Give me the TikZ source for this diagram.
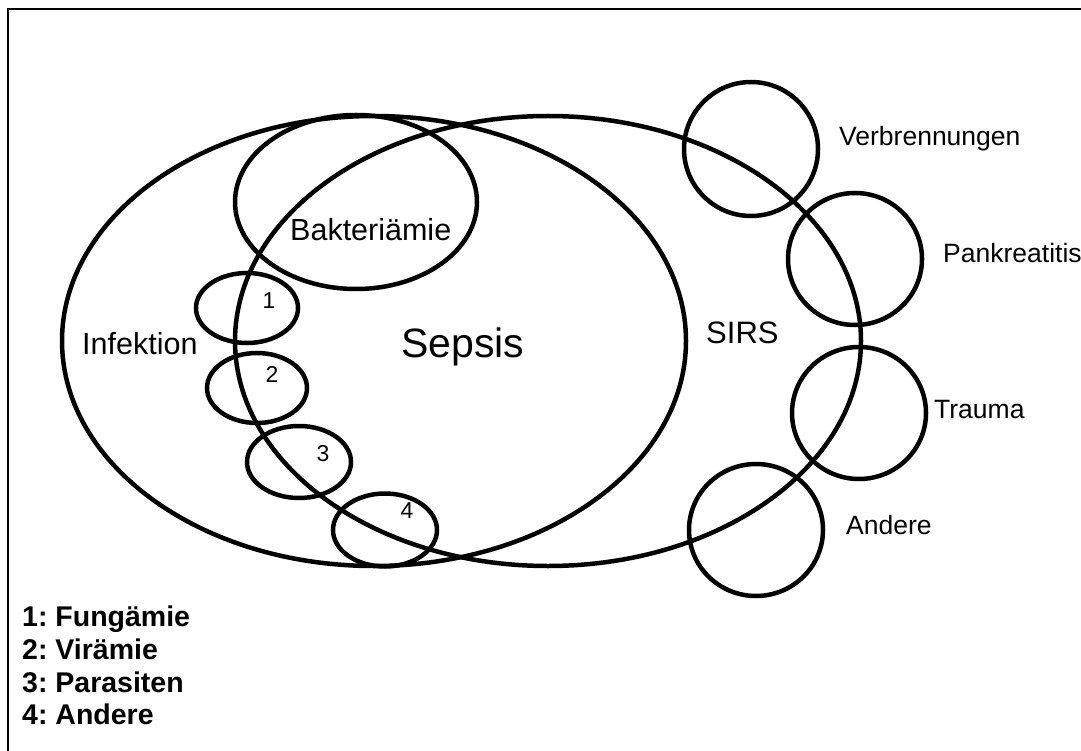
\documentclass[tikz,border=0pt]{standalone}
\usepackage{fontspec}
\setmainfont{Liberation Sans}
\frenchspacing
\begin{document}
\begin{tikzpicture}[x=1pt,y=-1pt,
  ring/.style={draw=black,line width=4.5pt},
  lbl/.style={inner sep=0pt,anchor=base west},
  num/.style={inner sep=0pt,anchor=center,font=\fontsize{23}{27}\selectfont},
  leg/.style={inner sep=0pt,anchor=base west,font=\frenchspacing\bfseries\fontsize{28.5}{33}\selectfont}]
\useasboundingbox (0,0) rectangle (1081,751);
% frame
\draw[line width=2pt] (8,760) -- (8,9) -- (1090,9);
% big ellipses
\draw[ring] (374,341) ellipse [x radius=312, y radius=225];
\draw[ring] (548,341) ellipse [x radius=313, y radius=225];
% Bakteriaemie
\draw[ring] (356,202) ellipse [x radius=121, y radius=87];
% small ellipses
\draw[ring] (247,308) ellipse [x radius=51, y radius=35];
\draw[ring] (257,388) ellipse [x radius=50, y radius=35];
\draw[ring] (299,462) ellipse [x radius=52, y radius=36];
\draw[ring] (385,530) ellipse [x radius=52, y radius=36.5];
% right circles
\draw[ring] (751,149) ellipse [x radius=67, y radius=67];
\draw[ring] (855,259) ellipse [x radius=67, y radius=66];
\draw[ring] (859,413) ellipse [x radius=67, y radius=66];
\draw[ring] (756,530) ellipse [x radius=67, y radius=66];
% texts
\node[lbl,font=\fontsize{30.5}{36}\selectfont] (infektion) at (82,354) {Infektion};
\node[lbl,font=\fontsize{30.5}{36}\selectfont] (bakt) at (290,241) {Bakteriämie};
\node[lbl,font=\fontsize{41}{48}\selectfont] (sepsis) at (401,357) {Sepsis};
\node[lbl,font=\fontsize{31}{36}\selectfont] (sirs) at (706,343) {SIRS};
\node[lbl,font=\fontsize{26.5}{31}\selectfont] (verb) at (839,146) {Verbrennungen};
\node[lbl,font=\fontsize{26.5}{31}\selectfont] (pank) at (943,262) {Pankreatitis};
\node[lbl,font=\fontsize{26.5}{31}\selectfont] (trauma) at (934,418) {Trauma};
\node[lbl,font=\fontsize{26.5}{31}\selectfont] (andere) at (846,534) {Andere};
\node[num] (n1) at (269,301) {1};
\node[num] (n2) at (272,374) {2};
\node[num] (n3) at (323,454) {3};
\node[num] (n4) at (407,511) {4};
% legend
\node[leg] (l1) at (22,626) {1: Fungämie};
\node[leg] (l2) at (22,659) {2: Virämie};
\node[leg] (l3) at (22,692) {3: Parasiten};
\node[leg] (l4) at (22,724) {4: Andere};
\end{tikzpicture}
\end{document}
